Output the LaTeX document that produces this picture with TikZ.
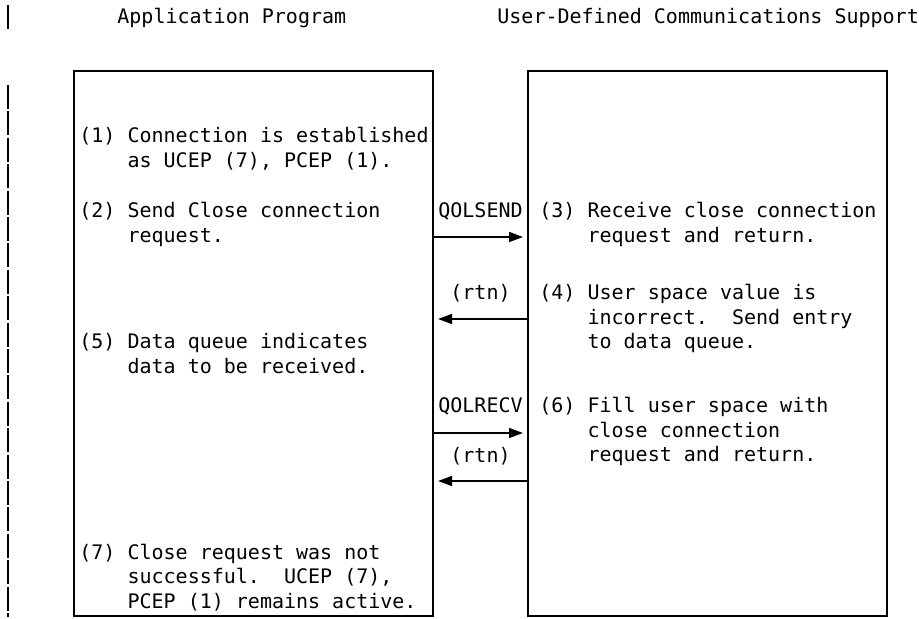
\documentclass[tikz,border=0pt]{standalone}
\usepackage{fontspec}
\setmonofont{DejaVu Sans Mono}
\usetikzlibrary{arrows.meta}
\begin{document}
\begin{tikzpicture}[x=0.5pt,y=-0.5pt,
  mono/.style={font=\ttfamily\fontsize{10}{12.25}\selectfont, inner sep=0pt},
  txt/.style={mono, anchor=base west},
  lbl/.style={mono, anchor=base},
  frame/.style={draw, line width=0.9pt, inner sep=0pt, outer sep=0pt,
    minimum width=179.5pt, minimum height=272.5pt},
  call/.style={line width=0.75pt, -{Triangle[length=7pt,width=5pt]}},
  bar/.style={line width=1pt}
]
% page area
\fill[white] (0,0) rectangle (919,619);
\useasboundingbox (0,0) rectangle (919,619);

% change bar in the margin
\draw[bar] (7.5,5) -- (7.5,29);
\draw[bar, dash pattern=on 12pt off 1.2pt] (7.5,85) -- (7.5,617);

% column headings
\node[txt] (hdrA) at (117,24) {Application Program};
\node[txt] (hdrB) at (497,24) {User-Defined Communications Support};

% the two parties
\node[frame] (app) at (253.5,343.5) {};
\node[frame] (ucs) at (707.5,343.5) {};

% application program steps
\node[txt] (s1) at (79,143) {\begin{tabular}[t]{@{}l@{}}(1) Connection is established\\\hphantom{(1) }as UCEP (7), PCEP (1).\end{tabular}};
\node[txt] (s2) at (79,218) {\begin{tabular}[t]{@{}l@{}}(2) Send Close connection\\\hphantom{(2) }request.\end{tabular}};
\node[txt] (s5) at (79,349) {\begin{tabular}[t]{@{}l@{}}(5) Data queue indicates\\\hphantom{(5) }data to be received.\end{tabular}};
\node[txt] (s7) at (79,559) {\begin{tabular}[t]{@{}l@{}}(7) Close request was not\\\hphantom{(7) }successful.\ \ UCEP (7),\\\hphantom{(7) }PCEP (1) remains active.\end{tabular}};

% communications support steps
\node[txt] (s3) at (539,218) {\begin{tabular}[t]{@{}l@{}}(3) Receive close connection\\\hphantom{(3) }request and return.\end{tabular}};
\node[txt] (s4) at (539,300) {\begin{tabular}[t]{@{}l@{}}(4) User space value is\\\hphantom{(4) }incorrect.\ \ Send entry\\\hphantom{(4) }to data queue.\end{tabular}};
\node[txt] (s6) at (539,413) {\begin{tabular}[t]{@{}l@{}}(6) Fill user space with\\\hphantom{(6) }close connection\\\hphantom{(6) }request and return.\end{tabular}};

% calls and returns between the columns
\node[lbl] (send) at (480.5,218) {QOLSEND};
\node[lbl] (rtn1) at (480.5,300) {(rtn)};
\node[lbl] (recv) at (480.5,413) {QOLRECV};
\node[lbl] (rtn2) at (480.5,462) {(rtn)};

\coordinate (a1) at (480,237);
\coordinate (a2) at (480,319);
\coordinate (a3) at (480,433);
\coordinate (a4) at (480,481);

\draw[call] (app.east |- a1) -- ([xshift=-2.5pt]ucs.west |- a1);
\draw[call] (ucs.west |- a2) -- ([xshift=2.5pt]app.east |- a2);
\draw[call] (app.east |- a3) -- ([xshift=-2.5pt]ucs.west |- a3);
\draw[call] (ucs.west |- a4) -- ([xshift=2.5pt]app.east |- a4);
\end{tikzpicture}
\end{document}
